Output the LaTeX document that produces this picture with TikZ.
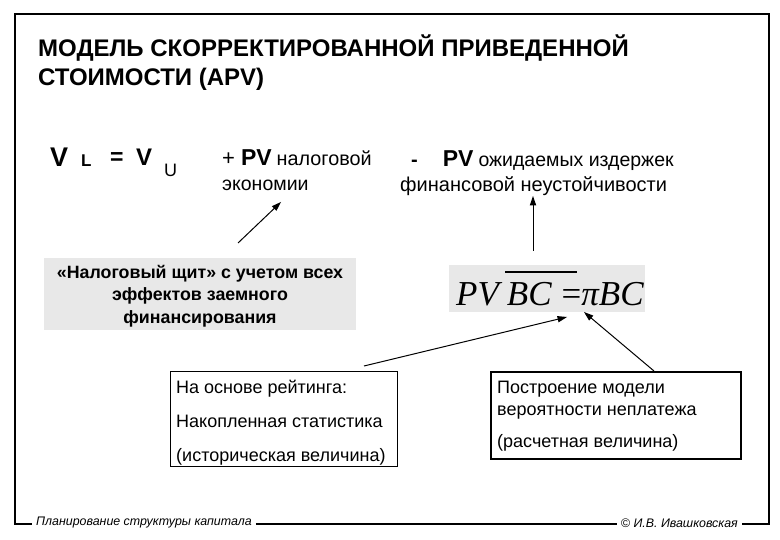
\documentclass[tikz,border=0pt]{standalone}
\usepackage{fontspec}
\setmainfont{Liberation Sans}
\newfontfamily\tnr{Liberation Serif}
\usetikzlibrary{calc}
\definecolor{boxgrey}{HTML}{E8E8E8}
\tikzset{
  frame/.style={line width=1.4pt},
  conn/.style={line width=1pt},
  headfill/.style={fill=black},
  txt/.style={inner sep=0pt},
  greybox/.style={fill=boxgrey,draw=none},
}
\newcommand\myconn[2]{%
  \draw[conn] (#1) -- ($(#2)!4pt!(#1)$);
  \fill[headfill] (#2) -- ($(#2)!10pt!19:(#1)$) -- ($(#2)!10pt!-19:(#1)$) -- cycle;}
\begin{document}
\begin{tikzpicture}[x=1pt,y=-1pt]
\useasboundingbox (0,0) rectangle (780,540);
% title
\node[txt,anchor=base west,font=\bfseries\fontsize{24}{28}\selectfont] (t1) at (38,57) {МОДЕЛЬ СКОРРЕКТИРОВАННОЙ ПРИВЕДЕННОЙ};
\node[txt,anchor=base west,font=\bfseries\fontsize{24}{28}\selectfont] (t2) at (38,86) {СТОИМОСТИ (APV)};
% equation V_L = V_U
\node[txt,anchor=base west,font=\bfseries\fontsize{27}{28}\selectfont] (v1) at (50,167) {V};
\node[txt,anchor=base west,font=\bfseries\fontsize{17}{18}\selectfont] (vl) at (81,167) {L};
\node[txt,anchor=base west,font=\bfseries\fontsize{23}{26}\selectfont] (eq) at (110,165) {=};
\node[txt,anchor=base west,font=\bfseries\fontsize{24}{26}\selectfont] (v2) at (136,166) {V};
\node[txt,anchor=base west,font=\fontsize{18}{20}\selectfont] (vu) at (164,177) {U};
% + PV tax savings
\node[txt,anchor=base west] (pv1) at (222,166) {{\fontsize{22}{24}\selectfont +}\hspace{6pt}{\bfseries\fontsize{23}{26}\selectfont PV}\hspace{5pt}{\fontsize{19.8}{20}\selectfont налоговой}};
\node[txt,anchor=base west,font=\fontsize{19.5}{20}\selectfont] (ek) at (222,191) {экономии};
% - PV distress costs
\node[txt,anchor=base west] (pv2) at (411,167) {{\bfseries\fontsize{20}{24}\selectfont -}\hspace{25pt}{\bfseries\fontsize{23}{26}\selectfont PV}\hspace{5pt}{\fontsize{19.5}{20}\selectfont ожидаемых издержек}};
\node[txt,anchor=base west,font=\fontsize{20}{20}\selectfont] (fin) at (400,192) {финансовой неустойчивости};
% grey box tax shield
\node[greybox,minimum width=312pt,minimum height=72pt,anchor=north west] (shield) at (44,258) {};
\node[txt,align=center,font=\bfseries\fontsize{17.8}{22.5}\selectfont] (shieldtxt) at (200,296) {«Налоговый щит» с учетом всех\\эффектов заемного\\финансирования};
% formula box
\node[greybox,minimum width=196pt,minimum height=47pt,anchor=north west] (fbox) at (449,265) {};
\node[txt,anchor=base west,font=\tnr\fontsize{35}{40}\selectfont] (formula) at (456,306) {\itshape PV\hspace{8pt}BC\hspace{10pt}\upshape =\itshape πBC};
\coordinate (olA) at (505,272);
\coordinate (olB) at (577,272);
\draw[line width=1.1pt] (olA) -- (olB);
% left box
\node[draw,line width=0.9pt,minimum width=227pt,minimum height=95pt,anchor=north west] (lbox) at (170,371) {};
\node[txt,anchor=base west,font=\fontsize{18}{20}\selectfont] (l1) at (176,394) {На основе рейтинга:};
\node[txt,anchor=base west,font=\fontsize{18}{20}\selectfont] (l2) at (176,427) {Накопленная статистика};
\node[txt,anchor=base west,font=\fontsize{18}{20}\selectfont] (l3) at (176,461) {(историческая величина)};
% right box
\node[draw,line width=1.7pt,minimum width=250pt,minimum height=87pt,anchor=north west] (rbox) at (490,371) {};
\node[txt,anchor=base west,font=\fontsize{18}{20}\selectfont] (r1) at (497,393) {Построение модели};
\node[txt,anchor=base west,font=\fontsize{18}{20}\selectfont] (r2) at (497,415) {вероятности неплатежа};
\node[txt,anchor=base west,font=\fontsize{18}{20}\selectfont] (r3) at (497,447) {(расчетная величина)};
% arrows
\coordinate (a1s) at (238,243);
\coordinate (a1e) at (281,202);
\myconn{a1s}{a1e}
\coordinate (a2s) at (533,251);
\coordinate (a2e) at (533,196);
\myconn{a2s}{a2e}
\coordinate (a3s) at (364,366);
\coordinate (a3e) at (567,317);
\myconn{a3s}{a3e}
\coordinate (a4s) at (654,371);
\coordinate (a4e) at (584,312);
\myconn{a4s}{a4e}
% footer
\node[anchor=west,inner xsep=4pt,font=\itshape\fontsize{12.4}{14}\selectfont] (foot1) at (32,523) {Планирование структуры капитала};
\node[anchor=east,inner xsep=4pt,font=\itshape\fontsize{12.4}{14}\selectfont] (foot2) at (742,523) {© И.В. Ивашковская};
% frame
\draw[frame] (foot2.east |- 0,524) -- (769,524) -- (769,14) -- (15,14) -- (15,524) -- (foot1.west |- 0,524);
\draw[frame] (foot1.east |- 0,524) -- (foot2.west |- 0,524);
\end{tikzpicture}
\end{document}
